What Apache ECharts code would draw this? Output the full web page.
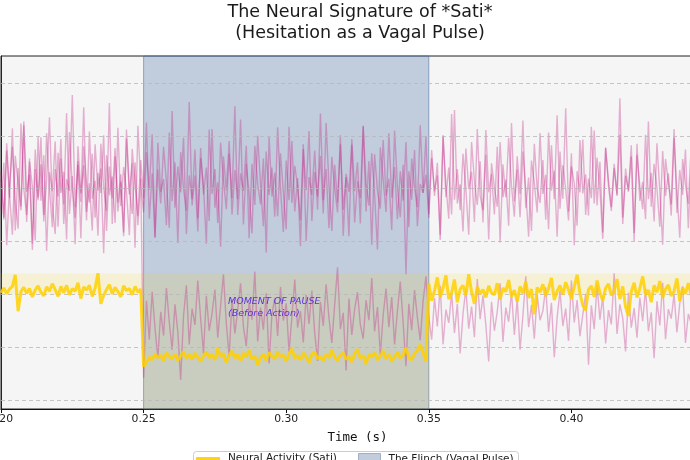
<!DOCTYPE html>
<html>
<head>
<meta charset="utf-8">
<script src="https://cdn.jsdelivr.net/npm/echarts@6/dist/echarts.min.js"></script>
<style>html,body{margin:0;padding:0;background:#fff}</style>
</head>
<body>
<div id="chart" style="width:690px;height:460px"></div>
<script type="text/javascript">
// sampling: 1 ms steps starting at 0.200 s
var tStart = 0.2;
var tStep = 0.001;

// pink traces
var traceA = [
  1.18, 0.45, 1.72, 0.83, 2.14, 0.21, 1.39, 0.66, 2.27, 0.37, 1.51, 1.04, 0.02, 1.98, 0.77, 1.63, -0.18, 1.31, 0.95, 1.89,
  0.28, 1.57, 0.70, 2.43, 0.52, 1.24, -0.05, 1.80, 0.91, 1.44, 0.40, 2.08, 0.81, 1.15, 0.11, 1.85, 1.02, 0.58, 2.62, 0.33,
  1.61, 0.74, 1.27, 0.17, 1.95, 0.89, 1.48, -0.12, 2.19, 1.07,
  0.55, 1.69, 0.98, 2.03, 0.08, 1.36, 0.72, 1.79, 1.12, 0.26, 2.47, 0.64, 1.42, 0.93, 1.96, 0.14, 1.25, 0.80, 1.74, 0.44,
  1.58, 1.05, -0.04, 2.12, 0.90, 1.37, 0.35, 1.87, 1.16, 0.61, 1.66, 0.82, 2.56, 0.50, 1.29, 0.96, 1.81, 0.06, 1.47, 0.69,
  2.00, 1.08, 0.29, 1.70, 0.88, 1.40, 0.47, 2.16, 1.00, 0.18, 1.53, 0.78, 1.90, 0.57, 1.20, -0.09, 1.75, 0.97, 2.09, 0.39,
  1.32, 0.85, 1.62, 0.53, 2.24, 1.06, 0.20, 1.45, 0.74, 1.84, 0.60, 1.22, 0.10, 1.94, 0.95, 1.50, 0.34, 2.18, 1.10, 0.68,
  1.67, 0.89, -0.15, 1.78, 1.17, 0.56, 2.05, 0.83, 1.41, 0.42, 1.33, 0.77, 1.88, 0.27, 1.57, 1.03, 0.65, 2.20, 0.92, 1.26,
  0.52, 1.73, 0.86, 1.49, 0.03, 2.01, 1.07, 0.43, 2.41, 0.79, 1.37, 0.59, 1.66, 0.99, 0.13, 1.88, 1.14, 0.69, 1.52, 0.36,
  2.11, 0.93, 1.28, 0.51, 1.79, -0.02, 1.46, 0.84, 1.96, 1.05, 0.47, 1.61, 0.90, 2.29, 0.63, 1.21, 0.20, 1.85, 1.00, 0.73,
  1.54, 0.41, 2.06, 0.96, 1.34, 0.09, 1.70, 0.81, 2.52, 0.57, 1.42, 1.10, 0.30, 1.92, 0.91, 1.27, 0.49, 2.17, 0.72, 1.59,
  0.98, 0.05, 1.77, 1.16, 0.65, 1.47, 0.86, 2.71, 0.45, 1.38, 0.94, 1.82, 0.16, 1.64, 1.04, 0.61, 2.02, 0.80, 1.30, 0.38,
  1.86, 0.95, -0.06, 1.56, 1.12, 0.70, 2.13, 0.54, 1.35, 0.88, 1.74, 0.25, 1.51, 1.01, 0.76
];
var traceB = [
  0.60, 1.49, -0.07, 1.06, 1.79, 0.78, 0.24, 2.23, 0.99, 0.50, 1.57, -0.16, 1.37, 0.83, 1.97, 0.38, 1.17, 2.35, 0.70, 0.14,
  1.68, 0.92, 1.32, 0.04, 2.07, 1.03, 0.44, 1.45, 0.75, 2.54, 0.56, 1.10, 0.21, 1.84, 0.96, 1.38, -0.22, 1.63, 0.87, 1.23,
  0.35, 2.15, 0.67, 1.41, 0.95, 0.12, 1.75, 1.09, 0.48, 1.54,
  0.83, 2.25, 0.43, 1.29, 0.07, 1.87, 0.94, 1.18, 0.31, 2.06, 0.76, 1.50, -0.03, 1.69, 1.00, 0.58, 2.64, 0.68, 1.25, 0.19,
  1.77, 0.89, 1.40, 0.39, 2.13, 0.64, 1.12, -0.10, 1.61, 0.97, 1.90, 0.51, 1.35, 0.80, 2.31, 0.32, 1.47, 0.91, 0.15, 1.81,
  1.08, 0.70, 1.57, -0.21, 1.98, 0.85, 1.30, 0.48, 1.67, 0.93, 0.23, 2.17, 0.73, 1.43, 1.05, 0.40, 1.84, 0.01, 1.22, 0.88,
  1.72, 0.60, 2.42, 0.78, 1.37, 0.25, 1.60, 1.01, 0.55, 2.01, 0.11, 1.28, 0.94, 1.83, 0.36, 1.14, 0.82, 2.19, 0.57, 1.52,
  -0.06, 1.65, 0.96, 0.62, 1.92, 0.87, 1.19, 0.22, 2.10, 1.04, 0.46, 1.45, -0.62, 1.33, 0.79, 1.73, 0.29, 1.09, 0.92, 1.99,
  0.45, 1.58, 0.95, 1.25, 0.12, 2.00, 0.84, 1.40, 0.51, 2.49, 0.72, 1.08, 0.19, 1.76, 0.99, 1.32, 0.37, 2.13, 0.87, 0.59,
  1.64, 0.04, 1.48, 1.03, 0.66, 1.88, 0.84, 1.17, 0.30, 2.24, 0.76, 1.36, 0.46, 1.70, 0.96, 0.09, 1.53, 1.11, 0.55, 2.05,
  0.90, 1.26, 0.23, 1.82, 0.80, 2.39, 0.62, 1.44, 0.99, 0.40, 1.67, -0.07, 1.33, 0.93, 1.93, 0.50, 1.19, 0.82, 2.10, 0.68,
  1.51, 0.17, 1.78, 1.05, 0.58, 1.39, 0.89, 2.02, 0.33, 1.24, 0.97, 1.61, 0.01, 1.85, 0.77, 1.13, 0.42, 2.27, 0.66, 1.47,
  1.00, 0.28, 1.71, 0.86, 1.29, 0.49, 1.96, 0.94, 0.07, 1.56, 1.08, 0.71, 1.80, 0.85, 1.21
];
// this one drops to the lower level when the pulse starts
var traceC = [
  1.33, 0.41, 1.86, 0.88, 0.13, 1.62, 1.10, 0.59, 2.20, 0.94, 1.26, -0.04, 1.74, 0.78, 1.46, 0.50, 2.05, 1.01, 0.27, 1.37,
  0.85, 1.94, 0.33, 1.18, 0.96, 2.77, 0.65, 1.52, 0.06, 1.80, 1.08, 0.74, 1.66, 0.45, 1.30, 0.92, 2.01, 0.20, 1.42, 0.82,
  1.77, 0.57, 1.13, 0.10, 2.12, 0.99, 0.52, 1.50, 0.31, 1.19,
  -2.58, -1.12, -1.86, -0.95, -1.64, -2.21, -1.33, -1.78, -0.88, -1.52, -2.05, -1.19, -1.71, -2.62, -1.41, -0.83, -1.95, -1.27, -1.58, -0.74,
  -1.46, -2.12, -1.03, -1.69, -1.36, -0.91, -1.82, -1.21, -0.62, -1.55, -2.18, -1.09, -1.74, -1.30, -0.79, -1.61, -1.98, -1.15, -1.48, -0.57,
  -1.89, -1.25, -1.67, -0.98, -2.31, -1.38, -1.06, -1.79, -0.86, -1.50, -1.17, -2.09, -1.43, -0.72, -1.63, -1.32, -1.91, -1.01, -1.56, -0.93,
  -1.73, -2.26, -1.14, -1.60, -0.81, -1.45, -1.92, -1.20, -0.49, -1.66, -1.35, -2.44, -1.08, -1.77, -1.28, -0.96, -1.58, -1.84, -1.11, -1.49,
  -0.69, -1.70, -1.24, -2.14, -1.40, -0.89, -1.62, -1.05, -1.95, -1.31, -0.76, -1.53, -2.36, -1.18, -1.68, -0.92, -1.44, -1.87, -1.13, -0.66,
  -1.42, -1.86, -1.07, -1.61, -0.84, -1.95, -1.29, -1.54, -0.98, -1.73, -1.18, -2.12, -1.36, -0.90, -1.65, -1.23, -1.81, -0.71, -1.47, -1.02,
  -1.58, -2.27, -1.14, -1.69, -1.33, -0.79, -1.90, -1.25, -1.52, -0.95, -1.77, -1.09, -2.05, -1.40, -0.66, -1.62, -1.20, -1.84, -1.01, -1.49,
  -1.31, -0.87, -1.71, -1.16, -2.19, -1.44, -0.93, -1.60, -1.27, -1.88, -0.74, -1.53, -1.11, -1.79, -1.38, -0.99, -2.33, -1.21, -1.66, -0.82,
  -1.48, -1.04, -1.93, -1.30, -1.57, -0.60, -1.75, -1.19, -1.45, -2.08, -0.97, -1.63, -1.26, -1.82, -1.06, -1.51, -0.89, -1.70, -1.34, -2.21,
  -1.13, -1.59, -0.78, -1.85, -1.28, -1.46, -1.00, -1.72, -1.17, -0.85, -1.92, -1.37, -1.55, -1.08, -1.64
];
// yellow "Neural Activity (Sati)"
var sati = [
  -0.97, -0.88, -0.99, -0.90, -0.85, -0.63, -1.32, -0.95, -0.87, -0.98, -0.89, -1.05, -0.92, -0.84, -0.96, -1.03, -0.86, -0.94, -0.80, -0.91,
  -1.04, -0.85, -0.97, -0.83, -1.01, -0.89, -0.94, -0.78, -1.08, -0.86, -0.92, -0.83, -1.04, -0.88, -0.60, -1.18, -1.02, -0.91, -0.82, -0.99,
  -0.87, -0.95, -1.05, -0.84, -0.93, -0.89, -1.01, -0.85, -0.96, -0.90,
  -2.37, -2.28, -2.19, -2.24, -2.12, -2.20, -2.15, -2.26, -2.10, -2.18, -2.22, -2.13, -2.25, -2.17, -2.08, -2.21, -2.14, -2.23, -2.11, -2.19,
  -2.27, -2.16, -2.09, -2.20, -2.13, -2.24, -2.02, -2.18, -2.12, -2.29, -2.15, -2.07, -2.21, -2.14, -2.26, -2.11, -2.19, -2.05, -2.23, -2.16,
  -2.34, -2.20, -2.13, -2.25, -2.10, -2.17, -2.22, -2.08, -2.19, -2.15, -2.27, -2.12, -2.03, -2.21, -2.16, -2.24, -2.11, -2.18, -2.30, -2.14,
  -2.09, -2.22, -2.17, -2.26, -2.13, -2.20, -2.06, -2.19, -2.25, -2.15, -2.11, -2.23, -2.18, -2.28, -2.12, -2.04, -2.21, -2.16, -2.32, -2.14,
  -2.19, -2.10, -2.24, -2.17, -2.07, -2.22, -2.13, -2.27, -2.18, -2.09, -2.21, -2.15, -2.01, -2.19, -2.24, -2.12, -2.06, -1.95, -2.11, -2.26,
  -0.80, -1.12, -0.93, -0.68, -1.05, -0.88, -0.64, -1.09, -0.97, -0.72, -1.15, -0.90, -0.83, -1.02, -0.62, -0.95, -1.18, -0.86, -0.99, -0.91,
  -1.06, -0.84, -0.97, -1.01, -0.79, -1.10, -0.88, -0.95, -0.73, -1.04, -0.92, -1.14, -0.85, -0.98, -0.76, -1.07, -0.90, -1.38, -0.87, -0.96,
  -0.81, -1.03, -0.89, -0.69, -1.11, -0.94, -0.83, -1.00, -0.77, -0.92, -1.08, -0.86, -0.63, -0.98, -1.21, -1.30, -0.91, -0.84, -1.05, -0.74,
  -0.97, -1.12, -0.88, -0.80, -1.02, -0.93, -0.71, -1.09, -0.85, -1.24, -1.41, -0.95, -0.78, -1.06, -0.89, -0.66, -1.00, -0.92, -1.15, -0.83,
  -0.96, -0.75, -1.07, -0.90, -0.82, -1.03, -0.94, -0.70, -1.13, -0.87, -0.99, -0.79, -1.01, -1.25, -0.86
];

var pulseStart = 0.25;
var pulseEnd = 0.35;
var bandLow = -1.0;
var bandHigh = -0.6;
var gridValues = [-3, -2, -1, 0, 1, 2, 3];
var yMin = -3.17;
var yMax = 3.51;

function pairs(vals) {
  return vals.map(function (v, i) {
    return [+(tStart + i * tStep).toFixed(3), v];
  });
}

var myChart = echarts.init(document.getElementById('chart'), null, {renderer: 'canvas'});

var pinkStyle = {color: '#c2187e', width: 1.4, opacity: 0.32};
var legendText = {fontFamily: 'DejaVu Sans', fontSize: 10.5, color: '#1a1a1a', padding: [0, 0, 0, 3]};

var option = {
  animation: false,
  backgroundColor: '#ffffff',
  title: {
    text: 'The Neural Signature of *Sati*\n(Hesitation as a Vagal Pulse)',
    left: 360,
    top: 2,
    padding: 0,
    textAlign: 'center',
    textStyle: {fontFamily: 'DejaVu Sans', fontSize: 17.5, fontWeight: 'normal', color: '#1a1a1a', lineHeight: 21}
  },
  // two legends sharing one box: line swatch and patch swatch need different heights
  legend: [
    {
      data: [{name: 'Neural Activity (Sati)', icon: 'rect', itemStyle: {color: '#ffd21a'}}],
      left: 196, top: 453, padding: 0,
      itemWidth: 24, itemHeight: 3,
      textStyle: legendText
    },
    {
      data: [{name: 'The Flinch (Vagal Pulse)', icon: 'rect', itemStyle: {color: '#c1ccdd', borderColor: '#9fb0cc', borderWidth: 1}}],
      left: 358, top: 453, padding: 0,
      itemWidth: 22, itemHeight: 12,
      textStyle: legendText
    }
  ],
  grid: {
    left: 1, right: -24, top: 56, bottom: 51,
    outerBoundsMode: 'none',
    containLabel: false,
    show: true,
    backgroundColor: '#f5f5f5',
    borderColor: '#222',
    borderWidth: 1
  },
  xAxis: {
    type: 'value',
    min: 0.2,
    max: 0.45,
    interval: 0.05,
    name: 'Time (s)',
    nameLocation: 'middle',
    nameGap: 22,
    nameTextStyle: {fontFamily: 'DejaVu Sans Mono', fontSize: 12.5, color: '#111'},
    axisLine: {onZero: false, lineStyle: {color: '#111', width: 1.2}},
    axisTick: {length: 4, lineStyle: {color: '#111'}},
    axisLabel: {
      fontFamily: 'DejaVu Sans', fontSize: 10.8, color: '#222', margin: 5,
      formatter: function (v) { return v.toFixed(2); }
    },
    splitLine: {show: false}
  },
  yAxis: {
    type: 'value',
    min: yMin,
    max: yMax,
    axisLine: {show: true, onZero: false, lineStyle: {color: '#222'}},
    axisTick: {show: false},
    axisLabel: {show: false},
    splitLine: {show: false}
  },
  graphic: [
    {
      type: 'rect',
      left: 193, top: 451, z: 1, silent: true,
      shape: {width: 325, height: 30, r: 3},
      style: {fill: 'rgba(255,255,255,0.8)', stroke: '#cccccc', lineWidth: 1}
    },
    {
      type: 'text',
      left: 228,
      top: 296,
      style: {
        text: 'MOMENT OF PAUSE\n(Before Action)',
        fontFamily: 'DejaVu Sans',
        fontStyle: 'italic',
        fontSize: 9.5,
        lineHeight: 11.5,
        fill: '#5a32d8'
      },
      z: 100
    }
  ],
  series: [
    {
      // dashed grid lines
      name: 'grid', type: 'line', data: [], z: 1, silent: true,
      markLine: {
        silent: true, symbol: 'none', label: {show: false},
        lineStyle: {type: [4, 3], color: '#b8b8b8', width: 0.8},
        data: gridValues.map(function (v) { return {yAxis: v}; })
      }
    },
    {
      name: 'The Flinch (Vagal Pulse)', type: 'line', data: [], z: 2,
      itemStyle: {color: '#c1ccdd'},
      lineStyle: {color: '#c1ccdd'},
      markArea: {
        silent: true,
        itemStyle: {color: 'rgba(74,111,165,0.3)', borderColor: 'rgba(74,111,165,0.55)', borderWidth: 1},
        data: [[{xAxis: pulseStart}, {xAxis: pulseEnd}]]
      }
    },
    {
      name: 'band', type: 'line', data: [], z: 3, silent: true,
      markArea: {
        silent: true,
        itemStyle: {color: 'rgba(255,210,0,0.13)'},
        data: [
          [{yAxis: bandLow}, {yAxis: bandHigh}],
          [{xAxis: pulseStart, yAxis: yMin}, {xAxis: pulseEnd, yAxis: bandLow}]
        ]
      }
    },
    {name: 'p1', type: 'line', data: pairs(traceA), symbol: 'none', z: 4, lineStyle: pinkStyle, itemStyle: {color: '#c2187e'}},
    {name: 'p2', type: 'line', data: pairs(traceB), symbol: 'none', z: 4, lineStyle: pinkStyle, itemStyle: {color: '#c2187e'}},
    {name: 'p3', type: 'line', data: pairs(traceC), symbol: 'none', z: 4, lineStyle: pinkStyle, itemStyle: {color: '#c2187e'}},
    {
      name: 'Neural Activity (Sati)', type: 'line', data: pairs(sati), symbol: 'none', z: 6,
      itemStyle: {color: '#ffd000'},
      lineStyle: {color: '#ffd000', width: 3, opacity: 0.85}
    }
  ]
};
myChart.setOption(option);
</script>
</body>
</html>
